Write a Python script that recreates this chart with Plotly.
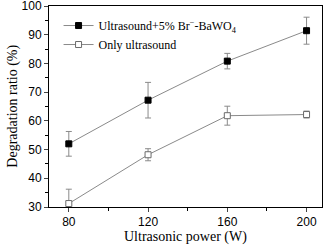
import plotly.graph_objects as go

power = [80, 120, 160, 200]
with_cat = [52.0, 67.2, 80.8, 91.4]
with_cat_err = [4.3, 6.2, 2.7, 4.7]
only_us = [31.2, 48.2, 61.8, 62.2]
only_us_err = [5.0, 2.1, 3.3, 1.2]

x_ticks = [80, 120, 160, 200]
y_ticks = [30, 40, 50, 60, 70, 80, 90, 100]

fig = go.Figure()
fig.add_trace(go.Scatter(
    x=power, y=with_cat, mode="lines+markers",
    name="Ultrasound+5% Br<sup>−</sup>-BaWO<sub>4</sub>",
    line=dict(color="#8a8a8a", width=1),
    marker=dict(symbol="square", size=6, color="black", line=dict(color="black", width=1)),
    error_y=dict(type="data", array=with_cat_err, color="#8a8a8a", thickness=1, width=3),
))
fig.add_trace(go.Scatter(
    x=power, y=only_us, mode="lines+markers",
    name="Only ultrasound",
    line=dict(color="#8a8a8a", width=1),
    marker=dict(symbol="square", size=6, color="white", line=dict(color="#6a6a6a", width=1)),
    error_y=dict(type="data", array=only_us_err, color="#8a8a8a", thickness=1, width=3),
))

fig.update_layout(
    width=330, height=251,
    margin=dict(l=49, r=8, t=6, b=44, autoexpand=False),
    paper_bgcolor="white", plot_bgcolor="white",
    showlegend=True,
    legend=dict(x=0.035, y=0.975, xanchor="left", yanchor="top",
                bgcolor="rgba(0,0,0,0)", font=dict(family="Liberation Serif", size=12, color="black"),
                itemwidth=30, tracegroupgap=0),
    font=dict(family="Liberation Sans", color="black"),
    annotations=[
        dict(text="Ultrasonic power (W)", xref="paper", yref="paper", x=0.5, y=-0.15,
             xanchor="center", yanchor="middle", showarrow=False,
             font=dict(family="Liberation Serif", size=14, color="black")),
        dict(text="Degradation ratio (%)", xref="paper", yref="paper", x=-0.135, y=0.5,
             xanchor="center", yanchor="middle", showarrow=False, textangle=-90,
             font=dict(family="Liberation Serif", size=14, color="black")),
    ],
)
fig.update_xaxes(
    range=[70, 207.8], tickvals=x_ticks, ticks="outside", ticklen=4, automargin=False,
    showline=True, linecolor="black", linewidth=1, mirror=True, showgrid=False, zeroline=False,
    minor=dict(tickvals=[100, 140, 180], ticks="outside", ticklen=3, tickcolor="black"),
    tickfont=dict(family="Liberation Sans", size=12), ticklabeloverflow="allow",
)
fig.update_yaxes(
    range=[30, 100], tickvals=y_ticks, ticks="outside", ticklen=4, automargin=False,
    showline=True, linecolor="black", linewidth=1, mirror=True, showgrid=False, zeroline=False,
    minor=dict(dtick=5, ticks="outside", ticklen=3, tickcolor="black"),
    tickfont=dict(family="Liberation Sans", size=12), ticklabeloverflow="allow",
)
fig.write_html("out.html", config={"displayModeBar": False},
               post_script="document.body.style.margin='0';")
